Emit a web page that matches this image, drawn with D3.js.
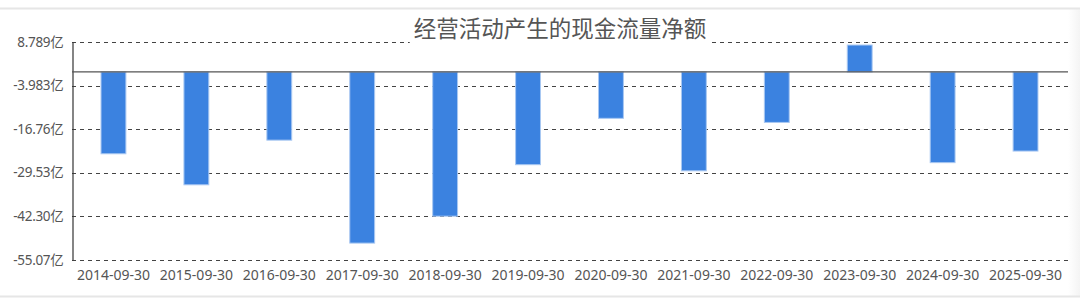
<!DOCTYPE html>
<html>
<head>
<meta charset="utf-8">
<script src="https://cdn.jsdelivr.net/npm/d3@7"></script>
<style>
  html, body { margin: 0; padding: 0; background: #fff; }
  svg { display: block; }
</style>
</head>
<body>
<svg id="chart"></svg>
<script>
// 报告期
var dates = ["2014-09-30", "2015-09-30", "2016-09-30", "2017-09-30", "2018-09-30", "2019-09-30",
             "2020-09-30", "2021-09-30", "2022-09-30", "2023-09-30", "2024-09-30", "2025-09-30"];
// 经营活动产生的现金流量净额（亿）
var netCash = [-24.0, -33.1, -20.0, -50.2, -42.3, -27.2, -13.6, -29.0, -14.8, 7.9, -26.6, -23.2];
// y 轴刻度
var yTicks = [8.789, -3.983, -16.76, -29.53, -42.30, -55.07];
var yTickLabels = ["8.789亿", "-3.983亿", "-16.76亿", "-29.53亿", "-42.30亿", "-55.07亿"];

var width = 1080, height = 299;
var margin = {top: 42, right: 13, bottom: 39.3, left: 72};

var svg = d3.select("#chart")
    .attr("width", width)
    .attr("height", height);

// 外框 + 右侧灰色边
var defs = svg.append("defs");
var grad = defs.append("linearGradient").attr("id", "sideFade");
grad.append("stop").attr("offset", "0%").attr("stop-color", "#ffffff");
grad.append("stop").attr("offset", "100%").attr("stop-color", "#f4f4f4");
svg.append("rect")
    .attr("x", 1068).attr("y", 8).attr("width", 12).attr("height", 288)
    .attr("fill", "url(#sideFade)");
svg.append("line")
    .attr("x1", 0).attr("x2", width).attr("y1", 8.5).attr("y2", 8.5)
    .attr("stroke", "#e6e6e6").attr("stroke-width", 2);
svg.append("line")
    .attr("x1", 0).attr("x2", width).attr("y1", 296.5).attr("y2", 296.5)
    .attr("stroke", "#e6e6e6").attr("stroke-width", 2);

var x = d3.scaleBand()
    .domain(dates)
    .range([margin.left, width - margin.right])
    .paddingInner(0.7)
    .paddingOuter(0.35);

var y = d3.scaleLinear()
    .domain([-55.07, 8.789])
    .range([height - margin.bottom, margin.top]);

var g = svg.append("g");

// 网格线
g.selectAll(".grid")
    .data(yTicks)
    .enter()
    .append("line")
    .attr("class", "grid")
    .attr("x1", margin.left)
    .attr("x2", width - margin.right + 1)
    .attr("y1", function(d) { return Math.round(y(d)) + 0.5; })
    .attr("y2", function(d) { return Math.round(y(d)) + 0.5; })
    .attr("stroke", "#444")
    .attr("stroke-width", 1)
    .attr("stroke-dasharray", "4,4");

// y 轴
var yAxis = d3.axisLeft(y)
    .tickValues(yTicks)
    .tickFormat(function(d, i) { return yTickLabels[i]; })
    .tickSize(0)
    .tickPadding(9);

var yg = g.append("g")
    .attr("transform", "translate(" + (margin.left + 0.5) + ",0)")
    .call(yAxis);
yg.select(".domain").attr("stroke", "#333").attr("stroke-width", 1.2);
yg.selectAll("text")
    .style("font-family", "'Noto Sans', 'Noto Sans CJK SC', sans-serif")
    .style("font-size", "13.5px")
    .style("letter-spacing", "-0.3px")
    .attr("fill", "#555");

// 柱子
g.selectAll(".bar")
    .data(netCash)
    .enter()
    .append("rect")
    .attr("class", "bar")
    .attr("x", function(d, i) { return x(dates[i]); })
    .attr("width", x.bandwidth())
    .attr("y", function(d) { return y(Math.max(0, d)); })
    .attr("height", function(d) { return Math.abs(y(d) - y(0)); })
    .attr("fill", "#3b82e0")
    .attr("stroke", "#a9c8f2")
    .attr("stroke-width", 1);

// 零线
g.append("line")
    .attr("x1", margin.left)
    .attr("x2", width - margin.right + 1)
    .attr("y1", y(0))
    .attr("y2", y(0))
    .attr("stroke", "#555")
    .attr("stroke-width", 1.2);

// x 轴标签
var xAxis = d3.axisBottom(x).tickSize(0).tickPadding(10);
var xg = g.append("g")
    .attr("transform", "translate(0," + (height - margin.bottom) + ")")
    .call(xAxis);
xg.select(".domain").remove();
xg.selectAll("text")
    .style("font-family", "'Noto Sans', 'Noto Sans CJK SC', sans-serif")
    .style("font-size", "14px")
    .attr("fill", "#555");

// 标题（白底遮住网格线）
var titleBg = svg.append("rect").attr("fill", "#fff");
var title = svg.append("text")
    .attr("x", 560)
    .attr("y", 37)
    .attr("text-anchor", "middle")
    .style("font-family", "'Noto Sans CJK SC', sans-serif")
    .style("font-size", "22.5px")
    .attr("fill", "#555")
    .text("经营活动产生的现金流量净额");
var bb = title.node().getBBox();
titleBg
    .attr("x", bb.x - 4).attr("y", bb.y).attr("width", bb.width + 8).attr("height", 45 - bb.y);
</script>
</body>
</html>
